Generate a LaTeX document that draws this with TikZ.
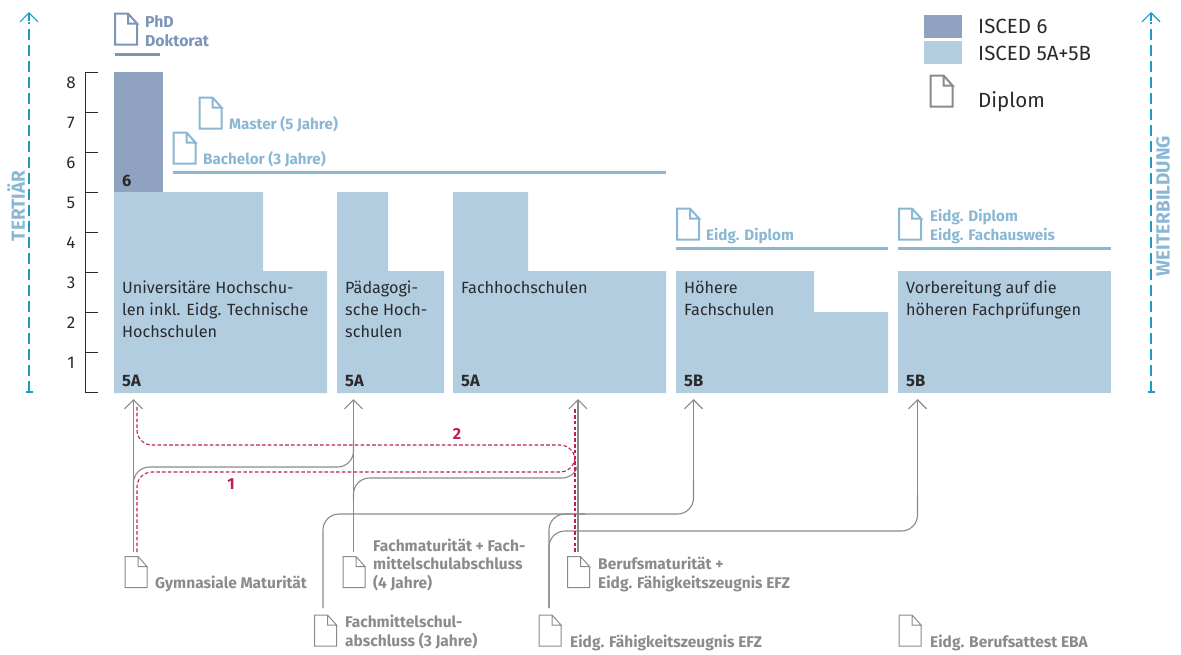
\documentclass[tikz,border=0pt]{standalone}
\usepackage{fontspec}
\setmainfont{Fira Sans}
\usetikzlibrary{arrows.meta}
\definecolor{isced6}{HTML}{8FA3C1}
\definecolor{isced5}{HTML}{B2CDDF}
\definecolor{labA}{HTML}{8AB7D3}
\definecolor{labD}{HTML}{7C94B8}
\definecolor{grayl}{HTML}{8A8A8D}
\definecolor{grayt}{HTML}{8A8B8E}
\definecolor{teal1}{HTML}{1C9CC4}
\definecolor{crim}{HTML}{BE1F50}
\definecolor{ink}{HTML}{2A2A2C}
\tikzset{
  x=1pt,y=-1pt,
  docbox/.style={inner sep=0pt,outer sep=0pt,minimum width=22pt,minimum height=31pt},
  boxtxt/.style={anchor=base west,inner sep=0pt,font=\fontsize{16.2}{16}\selectfont,text=ink},
  legtxt/.style={anchor=base west,inner sep=0pt,font=\fontsize{20.5}{20}\selectfont,text=ink},
  codetxt/.style={anchor=base west,inner sep=0pt,font=\fontsize{16.5}{16}\selectfont\bfseries,text=ink},
  scaletxt/.style={anchor=base,inner sep=0pt,font=\fontsize{17}{17}\selectfont,text=ink},
  bluetxt/.style={anchor=base west,inner sep=0pt,font=\fontsize{15.2}{15}\selectfont\bfseries,text=labA},
  darktxt/.style={anchor=base west,inner sep=0pt,font=\fontsize{15.8}{15}\selectfont\bfseries,text=labD},
  graytxt/.style={anchor=base west,inner sep=0pt,font=\fontsize{15.5}{15}\selectfont\bfseries,text=grayt},
  numtxt/.style={anchor=base,inner sep=0pt,font=\fontsize{16}{16}\selectfont\bfseries,text=crim},
  flow/.style={draw=grayl,line width=1.1pt,rounded corners=16pt},
  flowarrow/.style={draw=grayl,line width=1.1pt,-{Straight Barb[length=9pt,width=18pt,line width=1.1pt]}},
  redpath/.style={draw=crim,line width=1.1pt,dash pattern=on 3.6pt off 2.2pt,rounded corners=15pt},
  rule/.style={line width=2.6pt},
  axisarrow/.style={draw=teal1,line width=1.1pt,dash pattern=on 11pt off 5pt},
  sidetxt/.style={rotate=90,inner sep=0pt,font=\fontsize{19}{19}\selectfont\bfseries,text=labA},
}
% name, centre, colour, line width
\newcommand{\docicon}[4]{%
  \node[docbox] (#1) at (#2) {};
  \draw[#3,line width=#4,line join=miter]
    ([yshift=-10pt]#1.north east) -- (#1.south east) -- (#1.south west) -- (#1.north west)
    -- ([xshift=-9pt]#1.north east) -- ([yshift=-10pt]#1.north east)
    -- ([xshift=-9pt,yshift=-10pt]#1.north east) -- ([xshift=-9pt]#1.north east);
}
\begin{document}
\begin{tikzpicture}
\useasboundingbox (0,0) rectangle (1181,654);
% blocks
\fill[isced6] (114,72) rectangle (163,192);
\fill[isced5] (114,192) -- (263,192) -- (263,271) -- (327,271) -- (327,393) -- (114,393) -- cycle;
\fill[isced5] (337,192) -- (388,192) -- (388,271) -- (444,271) -- (444,393) -- (337,393) -- cycle;
\fill[isced5] (453,192) -- (528,192) -- (528,271) -- (666,271) -- (666,393) -- (453,393) -- cycle;
\fill[isced5] (676,271) -- (814,271) -- (814,312) -- (888,312) -- (888,393) -- (676,393) -- cycle;
\fill[isced5] (898,271) -- (1111,271) -- (1111,393) -- (898,393) -- cycle;
% scale
\draw[ink,line width=0.8pt] (98,72) -- (85,72) -- (85,392) -- (98,392);
\foreach \yy in {112,152,192,232,272,312,352} \draw[ink,line width=0.8pt] (85,\yy) -- (98,\yy);
\foreach \n/\yy in {8/88,7/128,6/168,5/208,4/248,3/288,2/328,1/368}
  \node[scaletxt] (s\n) at (71,\yy) {\n};
% box text
\node[codetxt] (c6) at (122,186) {6};
\node[boxtxt] (t1a) at (122,293) {Universitäre Hochschu-};
\node[boxtxt] (t1b) at (122,315) {len inkl. Eidg. Technische};
\node[boxtxt] (t1c) at (122,337) {Hochschulen};
\node[boxtxt] (t2a) at (345,293) {Pädagogi-};
\node[boxtxt] (t2b) at (345,315) {sche Hoch-};
\node[boxtxt] (t2c) at (345,337) {schulen};
\node[boxtxt] (t3a) at (461,293) {Fachhochschulen};
\node[boxtxt] (t4a) at (684,293) {Höhere};
\node[boxtxt] (t4b) at (684,315) {Fachschulen};
\node[boxtxt] (t5a) at (906,293) {Vorbereitung auf die};
\node[boxtxt] (t5b) at (906,315) {höheren Fachprüfungen};
\node[codetxt] (c1) at (122,386) {5A};
\node[codetxt] (c2) at (345,386) {5A};
\node[codetxt] (c3) at (461,386) {5A};
\node[codetxt] (c4) at (684,386) {5B};
\node[codetxt] (c5) at (906,386) {5B};
% diplomas above
\docicon{phd}{126,29}{labD}{2pt}
\node[darktxt] (phdt) at (145,27) {PhD};
\node[darktxt] (dokt) at (145,46) {Doktorat};
\draw[labD,rule] (115,54.5) -- (160,54.5);
\docicon{mas}{210.5,113}{labA}{2pt}
\node[bluetxt] (mast) at (229,129) {Master (5 Jahre)};
\docicon{bac}{184.5,148}{labA}{2pt}
\node[bluetxt] (bact) at (203,164) {Bachelor (3 Jahre)};
\draw[labA,rule] (173,172.5) -- (666,172.5);
\docicon{edi}{688,224}{labA}{2pt}
\node[bluetxt] (edit) at (706,240) {Eidg. Diplom};
\draw[labA,rule] (676,248.5) -- (888,248.5);
\docicon{efa}{910,224}{labA}{2pt}
\node[bluetxt] (efat) at (930,221) {Eidg. Diplom};
\node[bluetxt] (efbt) at (930,240) {Eidg. Fachausweis};
\draw[labA,rule] (898,248.5) -- (1111,248.5);
% legend
\fill[isced6] (924,15) rectangle (962,38);
\fill[isced5] (924,41) rectangle (962,64);
\node[legtxt] (l1) at (978,33.5) {ISCED 6};
\node[legtxt] (l2) at (978,60.5) {ISCED 5A+5B};
\docicon{leg}{941.5,91}{grayl}{2pt}
\node[legtxt] (l3) at (978,107.5) {Diplom};
% lower documents
\docicon{gym}{136,572}{grayl}{1pt}
\docicon{fma}{354,572}{grayl}{1pt}
\docicon{bma}{578.5,572}{grayl}{1pt}
\docicon{fmi}{325.5,630.5}{grayl}{1pt}
\docicon{efz}{550,630.5}{grayl}{1pt}
\docicon{eba}{910,630.5}{grayl}{1pt}
\node[graytxt] (gymt) at (155,588) {Gymnasiale Maturität};
\node[graytxt] (fmta) at (373,551) {Fachmaturität + Fach-};
\node[graytxt] (fmtb) at (373,569) {mittelschulabschluss};
\node[graytxt] (fmtc) at (373,588) {(4 Jahre)};
\node[graytxt] (bmta) at (598,569) {Berufsmaturität +};
\node[graytxt] (bmtb) at (598,588) {Eidg. Fähigkeitszeugnis EFZ};
\node[graytxt] (fmia) at (345,627) {Fachmittelschul-};
\node[graytxt] (fmib) at (345,646) {abschluss (3 Jahre)};
\node[graytxt] (efzt) at (570,647) {Eidg. Fähigkeitszeugnis EFZ};
\node[graytxt] (ebat) at (930,647) {Eidg. Berufsattest EBA};
% connector anchor points
\coordinate (tipA) at (133.5,399);
\coordinate (tipB) at (353.5,399);
\coordinate (tipC) at (578,399);
\coordinate (tipD) at (693.5,399);
\coordinate (tipE) at (917.5,399);
\coordinate (gs) at (133.5,552);
\coordinate (fs) at (353.5,552);
\coordinate (bs) at (578,552);
\coordinate (ms) at (323,608);
\coordinate (es) at (549,608);
% gray connectors
\draw[flowarrow] (gs) -- (tipA);
\draw[flowarrow] (fs) -- (tipB);
\draw[flowarrow] (bs) -- (tipC);
\draw[flow] (133.5,500) -- (133.5,467) -- (353.5,467) -- (353.5,440);
\draw[flow] (353.5,500) -- (353.5,478) -- (578,478) -- (578,450);
\draw[flow] (ms) -- (323,514) -- (693.5,514) -- (693.5,480);
\draw[flowarrow] (693.5,490) -- (tipD);
\draw[flow] (es) -- (549,514) -- (585,514);
\draw[flow] (es) -- (549,531) -- (917.5,531) -- (917.5,495);
\draw[flowarrow] (917.5,505) -- (tipE);
% red connectors
\draw[redpath] (137,552) -- (137,472) -- (575,472) -- (575,445) -- (137,445) -- (137,407);
\draw[redpath,rounded corners=0pt] (575,552) -- (575,408);
\node[numtxt] (n1) at (231,489.5) {1};
\node[numtxt] (n2) at (457,439.5) {2};
% side arrows
\coordinate (lb) at (29,392);
\coordinate (lt) at (29,12);
\coordinate (rb) at (1151,392);
\coordinate (rt) at (1151,12);
\draw[axisarrow] (lb) -- (29,22);
\draw[axisarrow] (rb) -- (1151,22);
\draw[teal1,line width=1.1pt] (25.5,392) -- (32.5,392);
\draw[teal1,line width=1.1pt] (1147.5,392) -- (1154.5,392);
\draw[teal1,line width=1.1pt,{Straight Barb[length=9pt,width=18pt,line width=1.1pt]}-] (lt) -- (29,21);
\draw[teal1,line width=1.1pt,{Straight Barb[length=9pt,width=18pt,line width=1.1pt]}-] (rt) -- (1151,21);
\node[sidetxt] (ter) at (16,206) {TERTIÄR};
\node[sidetxt] (wei) at (1163,206) {WEITERBILDUNG};
\end{tikzpicture}
\end{document}
